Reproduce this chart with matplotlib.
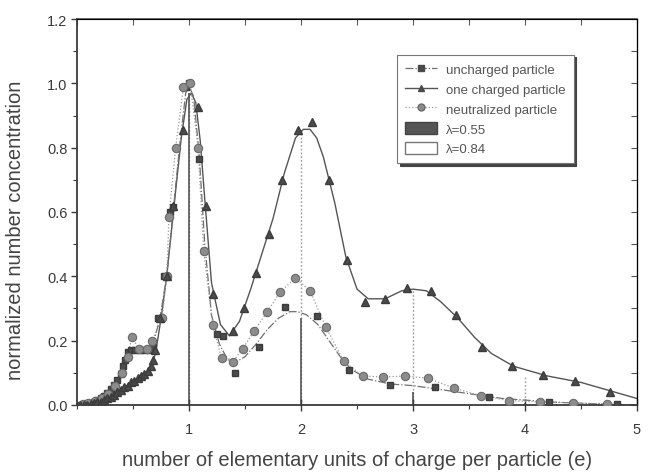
import matplotlib
matplotlib.use("Agg")
import matplotlib.pyplot as plt
from matplotlib.lines import Line2D
from matplotlib.patches import Patch
from matplotlib.ticker import MultipleLocator, FixedLocator

plt.rcParams['font.family'] = ['Liberation Sans', 'DejaVu Sans']

# ---------------- data ----------------
# one charged particle (triangles)
tri_x = [0.03, 0.06, 0.09, 0.12, 0.15, 0.18, 0.21, 0.24, 0.27, 0.30, 0.33, 0.36,
         0.39, 0.42, 0.45, 0.48, 0.51, 0.54, 0.57, 0.60, 0.63, 0.66, 0.68, 0.70,
         0.74, 0.80, 0.86, 0.95, 1.08, 1.15, 1.21, 1.39, 1.49, 1.60, 1.71, 1.83,
         1.97, 2.10, 2.25, 2.41, 2.57, 2.75, 2.95, 3.16, 3.38, 3.62, 3.88, 4.16,
         4.45, 4.76]
tri_y = [0.0, 0.0, 0.0, 0.003, 0.005, 0.008, 0.01, 0.015, 0.02, 0.025, 0.03, 0.04,
         0.045, 0.055, 0.06, 0.07, 0.075, 0.085, 0.09, 0.095, 0.105, 0.12, 0.14, 0.17,
         0.27, 0.40, 0.62, 0.855, 0.925, 0.62, 0.345, 0.23, 0.30, 0.41, 0.53, 0.70,
         0.855, 0.88, 0.70, 0.45, 0.32, 0.33, 0.365, 0.355, 0.28, 0.18, 0.12, 0.093,
         0.075, 0.04]
# fitted curve for the triangles (solid line)
tri_fit_x = [0.0, 0.2, 0.4, 0.55, 0.65, 0.70, 0.75, 0.80, 0.86, 0.93, 0.98, 1.02,
             1.06, 1.10, 1.14, 1.20, 1.28, 1.36, 1.45, 1.55, 1.65, 1.75, 1.85, 1.95,
             2.02, 2.08, 2.14, 2.20, 2.30, 2.40, 2.50, 2.60, 2.75, 2.90, 3.00, 3.12,
             3.25, 3.40, 3.55, 3.70, 3.90, 4.20, 4.50, 4.80, 5.00]
tri_fit_y = [0.0, 0.01, 0.05, 0.085, 0.11, 0.16, 0.27, 0.40, 0.60, 0.83, 0.95, 0.97,
             0.94, 0.82, 0.64, 0.38, 0.25, 0.215, 0.26, 0.36, 0.47, 0.58, 0.72, 0.83,
             0.857, 0.857, 0.83, 0.77, 0.63, 0.46, 0.36, 0.33, 0.33, 0.355, 0.36, 0.355,
             0.32, 0.27, 0.21, 0.16, 0.12, 0.09, 0.07, 0.04, 0.02]

# uncharged particle (squares)
sq_x = [0.03, 0.06, 0.09, 0.12, 0.15, 0.18, 0.21, 0.24, 0.27, 0.30, 0.33, 0.36,
        0.39, 0.41, 0.43, 0.45, 0.48, 0.52, 0.56, 0.60, 0.64, 0.68, 0.72, 0.78,
        0.83, 0.86, 0.97, 1.00, 1.09, 1.13, 1.25, 1.30, 1.41, 1.62, 1.86, 2.14,
        2.43, 2.79, 3.20, 3.68, 4.21, 4.82]
sq_y = [0.0, 0.002, 0.004, 0.007, 0.01, 0.015, 0.02, 0.028, 0.036, 0.048, 0.062, 0.078,
        0.095, 0.12, 0.14, 0.165, 0.17, 0.17, 0.17, 0.172, 0.17, 0.18, 0.27, 0.40,
        0.60, 0.615, 0.99, 1.0, 0.765, 0.48, 0.22, 0.215, 0.10, 0.18, 0.305, 0.277,
        0.11, 0.062, 0.056, 0.025, 0.008, 0.003]
# fitted curve for the squares (dash-dot line)
sq_fit_x = [0.0, 0.3, 0.45, 0.5, 0.6, 0.68, 0.74, 0.80, 0.86, 0.92, 0.97, 1.0,
            1.04, 1.09, 1.14, 1.20, 1.27, 1.33, 1.40, 1.50, 1.60, 1.70, 1.80, 1.90,
            1.97, 2.05, 2.15, 2.25, 2.35, 2.45, 2.60, 2.80, 3.0, 3.2, 3.4, 3.6,
            3.8, 4.0, 4.3, 4.6, 5.0]
sq_fit_y = [0.0, 0.03, 0.15, 0.17, 0.17, 0.19, 0.27, 0.40, 0.61, 0.82, 0.97, 0.99,
            0.96, 0.78, 0.50, 0.28, 0.19, 0.15, 0.13, 0.15, 0.19, 0.235, 0.27, 0.29,
            0.29, 0.28, 0.25, 0.20, 0.15, 0.11, 0.08, 0.065, 0.06, 0.05, 0.04, 0.03,
            0.02, 0.015, 0.008, 0.004, 0.0]

# neutralized particle (circles)
ci_x = [0.05, 0.10, 0.16, 0.22, 0.28, 0.34, 0.40, 0.45, 0.49, 0.55, 0.62, 0.67,
        0.76, 0.80, 0.82, 0.88, 0.95, 1.01, 1.08, 1.13, 1.21, 1.29, 1.39, 1.48,
        1.58, 1.70, 1.81, 1.95, 2.08, 2.22, 2.38, 2.55, 2.73, 2.93, 3.13, 3.37,
        3.61, 3.86, 4.13, 4.43, 4.73]
ci_y = [0.002, 0.005, 0.012, 0.022, 0.035, 0.06, 0.10, 0.15, 0.21, 0.175, 0.175, 0.20,
        0.27, 0.40, 0.585, 0.80, 0.99, 1.0, 0.80, 0.48, 0.25, 0.145, 0.135, 0.175,
        0.23, 0.29, 0.35, 0.395, 0.355, 0.243, 0.137, 0.09, 0.087, 0.09, 0.083, 0.052,
        0.028, 0.013, 0.01, 0.006, 0.003]

# charge distributions drawn as thin bars
bar_charge = [1, 2, 3, 4]
lam055 = [0.97, 0.27, 0.04, 0.005]
lam084 = [0.97, 0.857, 0.36, 0.09]

x_ticks = [1, 2, 3, 4, 5]
y_ticks = [0.0, 0.2, 0.4, 0.6, 0.8, 1.0, 1.2]

# ---------------- figure ----------------
fig = plt.figure(figsize=(6.48, 4.77), dpi=100)
ax = fig.add_axes([0.119, 0.149, 0.864, 0.809])

dark = '#4a4a4a'
mid = '#8c8c8c'

# bars
ax.vlines(bar_charge, 0, lam084, colors='#9a9a9a', linestyles=(0, (1.2, 1.5)), linewidth=1.0, zorder=1)
ax.vlines(bar_charge, 0, lam055, colors='#555555', linestyles='solid', linewidth=1.2, zorder=1)

# fitted lines
ax.plot(tri_fit_x, tri_fit_y, '-', color='#555555', lw=1.0, zorder=2)
ax.plot(sq_fit_x, sq_fit_y, '-.', color='#707070', lw=0.9, zorder=2)
ax.plot(ci_x, ci_y, ':', color='#9a9a9a', lw=0.9, zorder=2)

# markers
ax.plot(sq_x, sq_y, 's', color=dark, ms=5.0, mec='#3c3c3c', zorder=3)
ax.plot(ci_x, ci_y, 'o', color=mid, ms=6.0, mec='#6a6a6a', mew=0.8, zorder=3)
ax.plot(tri_x, tri_y, '^', color=dark, ms=5.5, mec='#3c3c3c', zorder=4)

ax.set_xlim(0, 5)
ax.set_ylim(0, 1.2)

ax.xaxis.set_major_locator(FixedLocator(x_ticks))
ax.xaxis.set_minor_locator(MultipleLocator(0.5))
ax.yaxis.set_major_locator(FixedLocator(y_ticks))
ax.yaxis.set_minor_locator(MultipleLocator(0.1))
ax.set_yticklabels([f'{v:.1f}' for v in y_ticks])
ax.set_xticklabels([str(v) for v in x_ticks])

ax.tick_params(axis='x', which='major', direction='inout', length=9, width=1.0,
               labelsize=10.5, colors='#3a3a3a', pad=8)
ax.tick_params(axis='x', which='minor', direction='out', length=3, width=0.8, colors='#3a3a3a')
ax.tick_params(axis='y', which='major', direction='out', length=4, width=1.0,
               labelsize=10.5, colors='#3a3a3a', pad=3)
ax.tick_params(axis='y', which='minor', direction='out', length=3, width=0.8, colors='#3a3a3a')

# top and right ticks pointing inward
secx = ax.secondary_xaxis('top')
secx.xaxis.set_major_locator(MultipleLocator(0.5))
secx.tick_params(direction='in', length=4, width=0.8, labeltop=False, colors='#555555')
secx.spines['top'].set_color('#555555')
secx.spines['top'].set_linewidth(1.2)
secy = ax.secondary_yaxis('right')
secy.yaxis.set_major_locator(MultipleLocator(0.1))
secy.tick_params(direction='in', length=4, width=0.8, labelright=False, colors='#555555')
secy.spines['right'].set_color('#777777')
secy.spines['right'].set_linewidth(1.0)

for s in ['left', 'bottom']:
    ax.spines[s].set_color('#3a3a3a')
    ax.spines[s].set_linewidth(1.3)

ax.set_xlabel('number of elementary units of charge per particle (e)', fontsize=14.5,
              color='#444444', labelpad=10)
ax.set_ylabel('normalized number concentration', fontsize=14.5, color='#444444')
ax.yaxis.set_label_coords(-0.093, 0.455)

handles = [
    Line2D([], [], color='#707070', ls='-.', lw=0.9, marker='s', ms=4.5, mfc=dark, mec=dark),
    Line2D([], [], color='#555555', ls='-', lw=1.0, marker='^', ms=5, mfc=dark, mec=dark),
    Line2D([], [], color='#9a9a9a', ls=':', lw=0.9, marker='o', ms=5, mfc=mid, mec='#6a6a6a'),
    Patch(facecolor='#555555', edgecolor='#444444'),
    Patch(facecolor='white', edgecolor='#777777'),
]
labels = ['uncharged particle', 'one charged particle', 'neutralized particle',
          'λ=0.55', 'λ=0.84']
leg = ax.legend(handles, labels, loc='upper left', bbox_to_anchor=(0.56, 0.925),
                fontsize=9.5, frameon=True, fancybox=False, edgecolor='#777777',
                shadow={'color': '#444444', 'alpha': 1.0}, borderpad=0.6,
                labelspacing=0.45, handlelength=2.4, handleheight=1.1, handletextpad=0.7,
                labelcolor='#555555')
leg.get_frame().set_linewidth(0.8)

fig.savefig('out.png', dpi=100)
